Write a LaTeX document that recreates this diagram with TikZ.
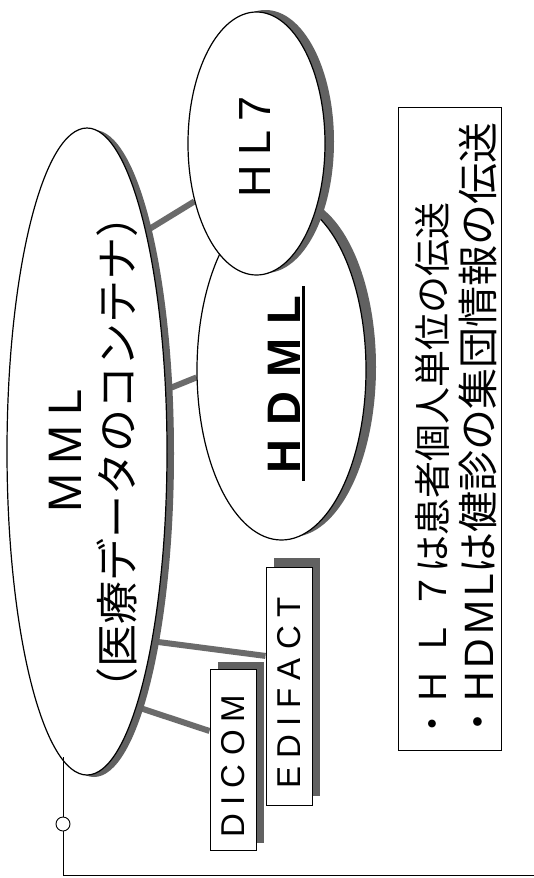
\documentclass[tikz,border=0pt]{standalone}
\usepackage{graphicx}
\usepackage{fontspec}
\setmainfont{Noto Sans CJK JP}
\newfontfamily\lat{Liberation Sans}
\usetikzlibrary{shapes.geometric,shadows}
\definecolor{shcol}{gray}{0.38}
\definecolor{conncol}{gray}{0.42}
\newcommand\lsp{\hspace{0.25em}}
\newcommand\fs[1]{\fontsize{#1}{#1}\selectfont}
\pgfdeclarelayer{bgfill}
\pgfdeclarelayer{background}
\pgfsetlayers{bgfill,background,main}
\begin{document}
\begin{tikzpicture}[x=1pt,y=-1pt,
  ell/.style={ellipse, draw=black, line width=1.2pt, fill=white, inner sep=0pt},
  box/.style={rectangle, draw=black, line width=1pt, fill=white, inner sep=0pt},
  conn/.style={draw=conncol, line width=6pt},
  txt/.style={inner sep=0pt, rotate=90},
  thinline/.style={line width=0.9pt}]
\useasboundingbox (0,0) rectangle (534,878);
\begin{pgfonlayer}{bgfill}
\fill[white] (0,0) rectangle (534,878);
\end{pgfonlayer}

% ellipses
\node[ell, minimum width=160pt, minimum height=647pt,
  drop shadow={shadow xshift=7pt, shadow yshift=-2pt, fill=shcol, opacity=1}] (mml) at (87,451.5) {};
\node[ell, minimum width=169pt, minimum height=340pt,
  drop shadow={shadow xshift=10pt, shadow yshift=3pt, fill=shcol, opacity=1}] (hdml) at (281.5,370) {};
\node[ell, minimum width=137pt, minimum height=263pt,
  drop shadow={shadow xshift=9pt, shadow yshift=2pt, fill=shcol, opacity=1}] (hl7) at (256.5,143.5) {};

% boxes
\node[box, minimum width=46pt, minimum height=238pt,
  drop shadow={shadow xshift=8pt, shadow yshift=9pt, fill=shcol, opacity=1}] (edi) at (289,686)
  {\rotatebox{90}{\lat\fs{33}E\lsp D\lsp I\lsp F\lsp A\lsp C\lsp T\hspace{14pt}}};
\node[box, minimum width=46pt, minimum height=181pt,
  drop shadow={shadow xshift=8pt, shadow yshift=8pt, fill=shcol, opacity=1}] (dicom) at (233,760)
  {\rotatebox{90}{\lat\fs{33}D\lsp I\lsp C\lsp O\lsp M\hspace{12pt}}};

% texts
\node[txt] (mmlt) at (65,451) {\lat\fs{47}M\hspace{.2em}M\hspace{.2em}L};
\node[txt] (mmlsub) at (117,452) {\fs{43}（医療データのコンテナ）};
\node[txt] (hl7t) at (255,147) {\lat\fs{45}H\hspace{.2em}L\hspace{.2em}7};
\node[txt, anchor=base] (hdmlt) at (300,384.5) {\lat\bfseries\fs{47}H\hspace{.3em}D\hspace{.3em}M\hspace{.3em}L};
\draw[line width=2.5pt] ([xshift=3.5pt,yshift=-7pt]hdmlt.base west) -- ([xshift=3.5pt,yshift=9pt]hdmlt.base east);

% info box
\node[box, minimum width=103pt, minimum height=643pt] (info) at (450,428.5) {};
\node[txt, anchor=base west] (l1) at (446,743) {\fs{37}・Ｈ\hspace{.3em}Ｌ\hspace{.3em}７は患者個人単位の伝送};
\node[txt, anchor=base west] (l2) at (493,743) {\fs{41}・{\lat H\hspace{.1em}D\hspace{.1em}M\hspace{.1em}L}は健診の集団情報の伝送};

% connectors
\begin{pgfonlayer}{background}
\draw[conn] (mml.75) -- (hl7.223);
\draw[conn] (mml.38) -- (hdml.185);
\draw[conn] (mml.289) -- (edi.128);
\draw[conn] (mml.281) -- (dicom.129);
\end{pgfonlayer}

% bottom line with junction
\node[circle, draw=black, thinline, fill=white, minimum size=14pt, inner sep=0pt] (junc) at (63,824) {};
\coordinate (corner) at (63,875);
\coordinate (edge) at (534,875);
\draw[thinline] (junc.north |- mml.265) -- (junc.north);
\draw[thinline] (junc.south) -- (corner) -- (edge);
\end{tikzpicture}
\end{document}
